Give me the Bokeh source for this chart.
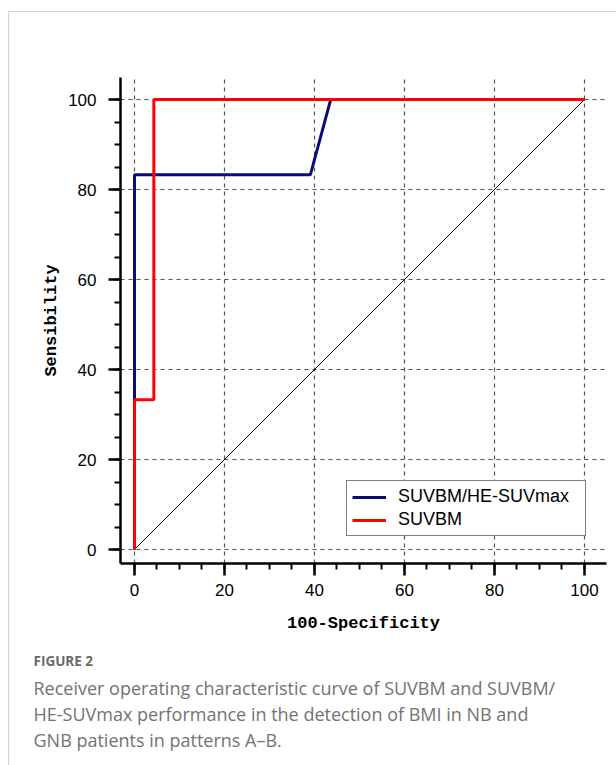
from bokeh.plotting import figure
from bokeh.models import Legend, LegendItem, Title, FixedTicker
from bokeh.embed import file_html
from bokeh.resources import INLINE

# ROC data (100-Specificity, Sensitivity)
combo_x = [0, 0, 39.1, 43.6, 100]
combo_y = [0, 83.3, 83.3, 100, 100]
suvbm_x = [0, 0, 4.3, 4.3, 100]
suvbm_y = [0, 33.3, 33.3, 100, 100]
ref_x = [0, 100]
ref_y = [0, 100]
ticks = [0, 20, 40, 60, 80, 100]
series_names = ["SUVBM/HE-SUVmax", "SUVBM"]
caption_title = "FIGURE 2"
caption_lines = [
    "Receiver operating characteristic curve of SUVBM and SUVBM/",
    "HE-SUVmax performance in the detection of BMI in NB and",
    "GNB patients in patterns A\u2013B.",
]

card = "linear-gradient(#d4d4d4,#d4d4d4)"
p = figure(width=616, height=765, output_backend="svg", toolbar_location=None,
           x_range=(-3.11, 104.9), y_range=(-3.11, 104.9),
           min_border_left=120, min_border_right=10, min_border_top=77,
           min_border_bottom=202,
           styles={"background-color": "white",
                   "background-image": f"{card}, {card}",
                   "background-size": "608px 1px, 1px 754px",
                   "background-position": "8px 11px, 8px 11px",
                   "background-repeat": "no-repeat"})
p.outline_line_color = None
p.background_fill_color = "white"
p.border_fill_color = None

for ax in (p.xaxis[0], p.yaxis[0]):
    ax.ticker = FixedTicker(ticks=ticks, minor_ticks=list(range(0, 105, 5)))
    ax.axis_line_width = 2.5
    ax.axis_line_color = "black"
    ax.major_tick_line_width = 2.5
    ax.major_tick_line_color = "black"
    ax.major_tick_out = 12
    ax.major_tick_in = 0
    ax.minor_tick_line_width = 2
    ax.minor_tick_line_color = "black"
    ax.minor_tick_out = 6
    ax.minor_tick_in = 0
    ax.major_label_text_font = "Liberation Sans"
    ax.major_label_text_font_size = "17px"
    ax.major_label_text_color = "black"
    ax.axis_label_text_font = "Liberation Mono"
    ax.axis_label_text_font_style = "bold"
    ax.axis_label_text_font_size = "17px"
    ax.axis_label_text_color = "black"

p.xaxis.axis_label = "100-Specificity"
p.yaxis.axis_label = "Sensibility"
p.xaxis.major_label_standoff = 8
p.yaxis.major_label_standoff = 12
p.xaxis.axis_label_standoff = 15
p.yaxis.axis_label_standoff = 4

for g in (p.xgrid[0], p.ygrid[0]):
    g.ticker = FixedTicker(ticks=ticks)
    g.grid_line_color = "#555555"
    g.grid_line_dash = "4 4"
    g.grid_line_width = 1.2

p.line(ref_x, ref_y, line_color="black", line_width=1)
r1 = p.line(combo_x, combo_y, line_color="#0b0b7a", line_width=3)
r2 = p.line(suvbm_x, suvbm_y, line_color="#ff0000", line_width=3)

legend = Legend(items=[LegendItem(label=series_names[0], renderers=[r1]),
                       LegendItem(label=series_names[1], renderers=[r2])],
                location=(226, 27), orientation="vertical",
                label_text_font="Liberation Sans", label_text_font_size="18px",
                label_text_color="black", glyph_width=34, glyph_height=20,
                label_standoff=12, label_width=182, padding=5, spacing=2,
                margin=0, border_line_color="black", border_line_width=1.5,
                background_fill_color="white", background_fill_alpha=1)
p.add_layout(legend, "center")

p.add_layout(Title(text=caption_title, align="left", offset=-87, standoff=28,
                   text_font="Open Sans", text_font_size="13.5px",
                   text_font_style="bold", text_color="#6a6a6a"), "below")
p.add_layout(Title(text="\n".join(caption_lines), align="left", offset=-87, standoff=-19,
                   text_font="Open Sans", text_font_size="18px",
                   text_font_style="normal", text_color="#737373",
                   text_line_height=1.09), "below")

open("out.html", "w").write(file_html(p, INLINE))
